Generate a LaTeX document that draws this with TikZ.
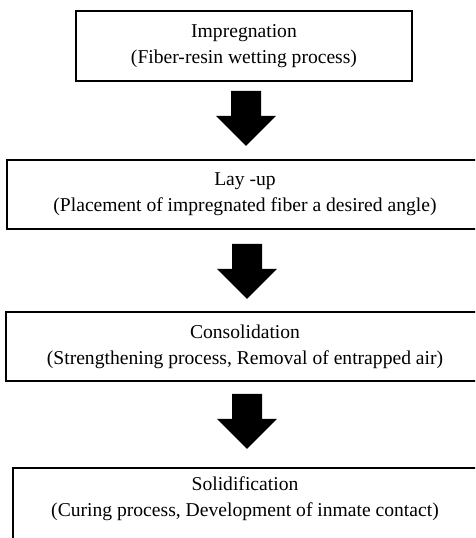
\documentclass[tikz,border=0pt]{standalone}
\usepackage{fontspec}
\setmainfont{Liberation Serif}
\usetikzlibrary{calc}

\tikzset{
  stage/.style={draw,line width=1.8pt,align=center,minimum height=69pt,
    font=\fontsize{19.6}{26}\selectfont},
  blockarrow/.style={fill=black}
}

\begin{document}
\begin{tikzpicture}[x=1pt,y=-1pt]
  \useasboundingbox (0,0) rectangle (475,538);
  \clip (0,0) rectangle (475,538);

  \node[stage,minimum width=336pt,minimum height=70pt] (imp) at (244,46)
    {Impregnation\\(Fiber-resin wetting process)};
  \node[stage,minimum width=476pt] (lay) at (245,194.5)
    {Lay -up\\(Placement of impregnated fiber a desired angle)};
  \node[stage,minimum width=478pt] (cons) at (245,346.5)
    {Consolidation\\(Strengthening process, Removal of entrapped air)};
  \node[stage,minimum width=464pt,anchor=north,inner ysep=9pt,text depth=45pt] (sol) at (245,467)
    {Solidification\\(Curing process, Development of inmate contact)};

  % fat arrows between the stages
  \foreach \a/\b/\g in {imp/lay/9,lay/cons/14,cons/sol/12}
    \fill[blockarrow] ($(\a.south)+(-13,\g)$) -- ++(30,0) -- ++(0,25) -- ++(15,0)
      -- ++(-30,30) -- ++(-30,-30) -- ++(15,0) -- cycle;
\end{tikzpicture}
\end{document}
